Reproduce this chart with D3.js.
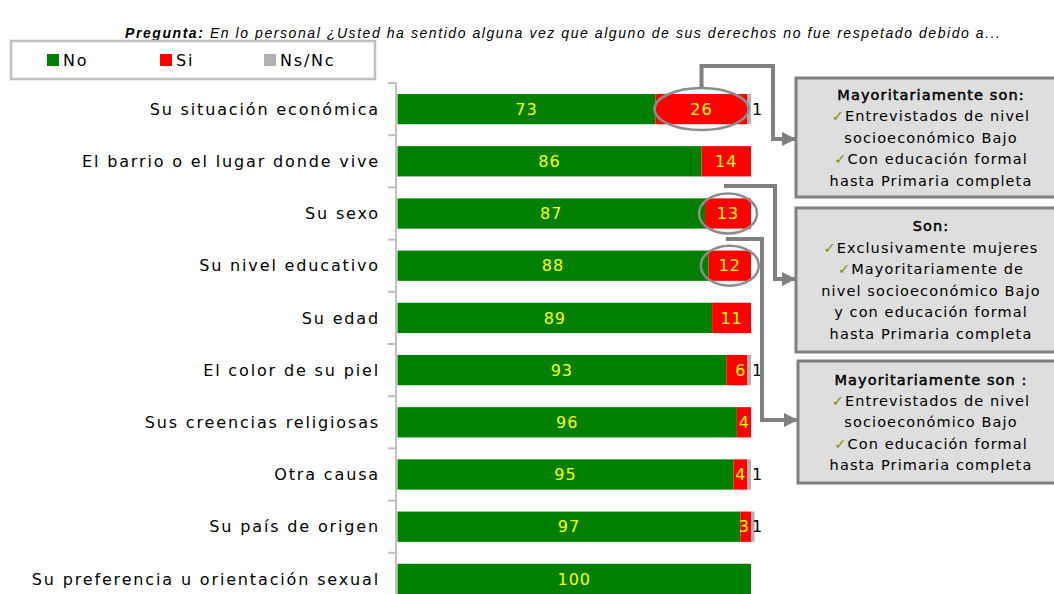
<!DOCTYPE html>
<html><head><meta charset="utf-8">
<script src="https://cdn.jsdelivr.net/npm/d3@7/dist/d3.min.js"></script>
<style>body{margin:0;background:#fff}svg{display:block}</style>
</head><body>
<svg id="c" width="1054" height="594"></svg>
<script>
const categories = ["Su situación económica","El barrio o el lugar donde vive","Su sexo","Su nivel educativo","Su edad","El color de su piel","Sus creencias religiosas","Otra causa","Su país de origen","Su preferencia u orientación sexual"];
const noValues = [73,86,87,88,89,93,96,95,97,100];
const siValues = [26,14,13,12,11,6,4,4,3,0];
const nsncValues = [1,0,0,0,0,1,0,1,1,0];
const seriesNames = ["No","Si","Ns/Nc"];
const seriesColors = ["#008000","#ff0000","#b2b2b2"];
const titleBold = "Pregunta:";
const titleRest = " En lo personal ¿Usted ha sentido alguna vez que alguno de sus derechos no fue respetado debido a...";
const callouts = [
  {row:0, lines:[["","Mayoritariamente son:",true],["✓","Entrevistados de nivel"],["","socioeconómico Bajo"],["✓","Con educación formal"],["","hasta Primaria completa"]]},
  {row:2, lines:[["","Son:",true],["✓","Exclusivamente mujeres"],["✓","Mayoritariamente de"],["","nivel socioeconómico Bajo"],["","y con educación formal"],["","hasta Primaria completa"]]},
  {row:3, lines:[["","Mayoritariamente son :",true],["✓","Entrevistados de nivel"],["","socioeconómico Bajo"],["✓","Con educación formal"],["","hasta Primaria completa"]]}
];

const svg = d3.select("#c");
const FONT = "'DejaVu Sans', Verdana, sans-serif";
const x = d3.scaleLinear().domain([0,100]).range([397.5,751]);
const y = d3.scaleBand().domain(categories).range([83,605]).paddingInner(0.42).paddingOuter(0.21);

const rows = categories.map((c,i)=>({cat:c, No:noValues[i], Si:siValues[i], "Ns/Nc":nsncValues[i]}));
const stack = d3.stack().keys(seriesNames)(rows);

// title
const t = svg.append("text").attr("x",125).attr("y",38).attr("textLength",875).attr("lengthAdjust","spacing")
  .style("font-family","'Liberation Sans', Arial, sans-serif").style("font-size","14px").style("font-style","italic");
t.append("tspan").attr("font-weight","bold").text(titleBold);
t.append("tspan").text(titleRest);

// legend
const lg = svg.append("g");
lg.append("rect").attr("x",11).attr("y",41).attr("width",364).attr("height",38).attr("fill","#fff").attr("stroke","#c0c0c0").attr("stroke-width",2.5);
const legX = [47,160,264];
seriesNames.forEach((s,i)=>{
  lg.append("rect").attr("x",legX[i]).attr("y",54).attr("width",12).attr("height",12).attr("fill",seriesColors[i]);
  lg.append("text").attr("x",legX[i]+16).attr("y",66).text(s).style("font-family",FONT).style("font-size","16px").style("letter-spacing","1.8px").attr("fill","#000");
});

// axis
const ag = svg.append("g").attr("transform","translate(396,0)");
ag.append("line").attr("y1",83).attr("y2",605).attr("stroke","#c0c0c0").attr("stroke-width",2);
const bounds = d3.range(categories.length+1).map(i=>83+i*y.step());
ag.selectAll("line.tk").data(bounds).join("line").attr("class","tk").attr("x1",-8).attr("x2",0).attr("y1",d=>d).attr("y2",d=>d).attr("stroke","#c0c0c0").attr("stroke-width",2);
ag.selectAll("text.cl").data(categories).join("text").attr("class","cl")
  .attr("x",-16).attr("y",d=>y(d)+y.bandwidth()/2).attr("dy","0.36em").attr("text-anchor","end")
  .style("font-family",FONT).style("font-size","16px").style("letter-spacing","1.85px").attr("fill","#000").text(d=>d);

// bars
stack.forEach((layer,li)=>{
  svg.append("g").selectAll("rect").data(layer).join("rect")
    .attr("x",d=>x(d[0])).attr("width",d=>Math.max(0,x(d[1])-x(d[0])))
    .attr("y",d=>y(d.data.cat)).attr("height",y.bandwidth()).attr("fill",seriesColors[li]);
});
// value labels
const lblStyle = s=>s.style("font-family",FONT).style("font-size","16px").style("letter-spacing","1px");
svg.append("g").selectAll("text").data(stack[0]).join("text")
  .attr("x",d=>(x(d[0])+x(d[1]))/2).attr("y",d=>y(d.data.cat)+y.bandwidth()/2).attr("dy","0.36em").attr("text-anchor","middle")
  .attr("fill","#ffff00").text(d=>d.data.No).call(lblStyle);
svg.append("g").selectAll("text").data(stack[1].filter(d=>d.data.Si>0)).join("text")
  .attr("x",d=>d.data.Si>=10?(x(d[0])+x(d[1]))/2:x(d[1])-1).attr("y",d=>y(d.data.cat)+y.bandwidth()/2).attr("dy","0.36em")
  .attr("text-anchor",d=>d.data.Si>=10?"middle":"end")
  .attr("fill","#ffff00").text(d=>d.data.Si).call(lblStyle);
svg.append("g").selectAll("text").data(stack[2].filter(d=>d.data["Ns/Nc"]>0)).join("text")
  .attr("x",d=>Math.min(x(d[1]),x(100))+1).attr("y",d=>y(d.data.cat)+y.bandwidth()/2).attr("dy","0.36em")
  .attr("fill","#000").text(d=>d.data["Ns/Nc"]).call(lblStyle);

// arrow marker
svg.append("defs").append("marker").attr("id","ah").attr("viewBox","0 0 10 10").attr("refX",10).attr("refY",5)
  .attr("markerWidth",4.5).attr("markerHeight",3.5).attr("markerUnits","strokeWidth").attr("orient","auto")
  .append("path").attr("d","M0,0L10,5L0,10z").attr("fill","#808080");

// callout boxes
const boxes = [{x:796,y:78,h:119},{x:796,y:208,h:144},{x:798,y:361,h:122}];
const lineGap = [21.5,21.5,21.3];
callouts.forEach((c,i)=>{
  const b = boxes[i];
  svg.append("rect").attr("x",b.x).attr("y",b.y).attr("width",280).attr("height",b.h).attr("fill","#dedede").attr("stroke","#808080").attr("stroke-width",3);
  const n = c.lines.length;
  const y0 = b.y + b.h/2 - (n-1)*lineGap[i]/2;
  c.lines.forEach((ln,j)=>{
    const tx = svg.append("text").attr("x",931).attr("y",y0+j*lineGap[i]).attr("dy","0.36em").attr("text-anchor","middle")
      .style("font-family",FONT).style("font-size","14.5px").style("letter-spacing","1.1px").attr("fill","#000");
    if(ln[0]) tx.append("tspan").attr("fill","#8c8c00").text(ln[0]);
    const ts = tx.append("tspan").text(ln[1]);
    if(ln[2]) ts.attr("stroke","#000").attr("stroke-width",0.5);
  });
});

// ellipses and connectors
const ell = [{row:0,rx:47,ry:21},{row:2,rx:29,ry:20},{row:3,rx:29,ry:20}];
const ellG = svg.append("g");
const centers = ell.map(e=>{
  const d = stack[1][e.row];
  return {cx:(x(d[0])+x(d[1]))/2, cy:y(categories[e.row])+y.bandwidth()/2, rx:e.rx, ry:e.ry};
});
centers.forEach(c=>{
  ellG.append("ellipse").attr("cx",c.cx).attr("cy",c.cy).attr("rx",c.rx).attr("ry",c.ry)
    .attr("fill","none").attr("stroke","#8c8c8c").attr("stroke-width",2.5);
});
const conn = [
  {top:66, vx:773, ay:139, bx:796},
  {top:186, vx:775, ay:279, bx:796},
  {top:239, vx:762, ay:420, bx:798}
];
conn.forEach((k,i)=>{
  const c = centers[i];
  const sx = i===0 ? c.cx : c.cx-4;
  const p = i===0
    ? `M${sx},${c.cy-c.ry}V${k.top}H${k.vx}V${k.ay}H${k.bx}`
    : `M${sx},${k.top}H${k.vx}V${k.ay}H${k.bx}`;
  svg.append("path").attr("d",p).attr("fill","none").attr("stroke","#808080").attr("stroke-width",4).attr("marker-end","url(#ah)");
});
</script>
</body></html>
